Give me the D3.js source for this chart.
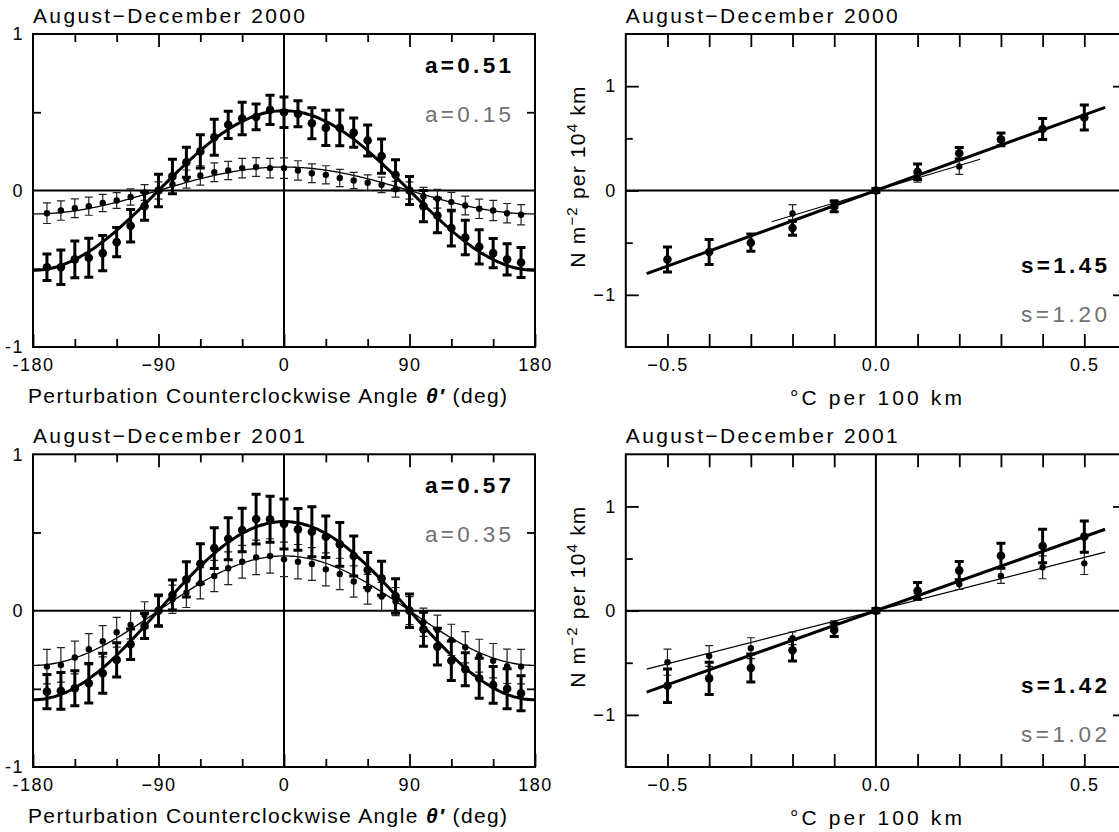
<!DOCTYPE html>
<html>
<head>
<meta charset="utf-8">
<script src="https://cdn.jsdelivr.net/npm/d3@7/dist/d3.min.js"></script>
<style>
  body { margin: 0; background: #fff; }
  svg { display: block; font-family: "Liberation Sans", Arial, sans-serif; }
</style>
</head>
<body>
<svg id="chart"></svg>
<script>
const width = 1119;
const height = 832;

// perturbation angle (deg) for the left panels
const angles = [-170, -160, -150, -140, -130, -120, -110, -100, -90, -80, -70, -60, -50, -40, -30, -20, -10,
  0, 10, 20, 30, 40, 50, 60, 70, 80, 90, 100, 110, 120, 130, 140, 150, 160, 170];

// 2000, strong series (a=0.51)
const ang2000Strong = [-0.49, -0.49, -0.44, -0.43, -0.40, -0.33, -0.225, -0.10, 0.00, 0.09, 0.18, 0.25, 0.34, 0.42, 0.46, 0.47, 0.515,
  0.50, 0.49, 0.43, 0.40, 0.40, 0.37, 0.32, 0.22, 0.10, 0.00, -0.10, -0.16, -0.24, -0.30, -0.36, -0.40, -0.44, -0.46];
const ang2000StrongErr = [0.085, 0.11, 0.117, 0.125, 0.113, 0.093, 0.104, 0.09, 0.104, 0.11, 0.096, 0.106, 0.115, 0.087, 0.104, 0.082, 0.093,
  0.098, 0.083, 0.099, 0.112, 0.114, 0.093, 0.099, 0.109, 0.096, 0.09, 0.10, 0.11, 0.114, 0.11, 0.11, 0.094, 0.10, 0.096];
// 2000, weak series (a=0.15)
const ang2000Weak = [-0.145, -0.128, -0.113, -0.10, -0.08, -0.064, -0.042, -0.013, 0.00, 0.04, 0.073, 0.096, 0.117, 0.128, 0.143, 0.15, 0.143,
  0.143, 0.128, 0.11, 0.10, 0.08, 0.064, 0.05, 0.036, 0.008, 0.00, -0.038, -0.053, -0.074, -0.096, -0.117, -0.128, -0.145, -0.155];
const ang2000WeakErr = [0.066, 0.062, 0.06, 0.058, 0.055, 0.05, 0.052, 0.05, 0.055, 0.06, 0.058, 0.062, 0.06, 0.058, 0.062, 0.06, 0.062,
  0.065, 0.062, 0.06, 0.058, 0.055, 0.052, 0.05, 0.05, 0.05, 0.055, 0.058, 0.06, 0.062, 0.06, 0.062, 0.065, 0.062, 0.065];

// 2001, strong series (a=0.57)
const ang2001Strong = [-0.518, -0.513, -0.496, -0.464, -0.40, -0.315, -0.215, -0.098, 0.00, 0.10, 0.20, 0.30, 0.40, 0.46, 0.516, 0.586, 0.584,
  0.554, 0.52, 0.505, 0.473, 0.424, 0.35, 0.26, 0.207, 0.094, 0.00, -0.119, -0.23, -0.32, -0.375, -0.432, -0.475, -0.50, -0.528];
const ang2001StrongErr = [0.109, 0.117, 0.112, 0.126, 0.128, 0.109, 0.098, 0.08, 0.10, 0.096, 0.112, 0.128, 0.13, 0.134, 0.139, 0.159, 0.147,
  0.16, 0.133, 0.16, 0.133, 0.14, 0.128, 0.112, 0.109, 0.11, 0.107, 0.109, 0.117, 0.126, 0.105, 0.128, 0.117, 0.128, 0.112];
// 2001, weak series (a=0.35)
const ang2001Weak = [-0.358, -0.347, -0.30, -0.247, -0.196, -0.138, -0.091, -0.028, 0.00, 0.073, 0.115, 0.175, 0.222, 0.271, 0.313, 0.341, 0.35,
  0.328, 0.313, 0.298, 0.264, 0.235, 0.186, 0.137, 0.09, 0.058, 0.00, -0.074, -0.123, -0.187, -0.234, -0.288, -0.32, -0.356, -0.358];
const ang2001WeakErr = [0.11, 0.11, 0.105, 0.10, 0.10, 0.095, 0.09, 0.085, 0.09, 0.09, 0.095, 0.10, 0.10, 0.105, 0.105, 0.11, 0.11,
  0.11, 0.11, 0.105, 0.105, 0.10, 0.10, 0.095, 0.09, 0.09, 0.09, 0.09, 0.095, 0.10, 0.10, 0.105, 0.11, 0.11, 0.11];

// temperature gradient (°C per 100 km) for the right panels
const gradients = [-0.5, -0.4, -0.3, -0.2, -0.1, 0.0, 0.1, 0.2, 0.3, 0.4, 0.5];
const gradientsShort = [-0.2, -0.1, 0.0, 0.1, 0.2];

const grad2000Strong = [-0.662, -0.59, -0.50, -0.36, -0.153, 0.0, 0.18, 0.357, 0.49, 0.59, 0.70];
const grad2000StrongErr = [0.12, 0.12, 0.083, 0.07, 0.05, 0.02, 0.075, 0.055, 0.06, 0.10, 0.12];
const grad2000Weak = [-0.22, -0.13, 0.0, 0.12, 0.23];
const grad2000WeakErr = [0.085, 0.04, 0.02, 0.04, 0.075];

const grad2001Strong = [-0.72, -0.65, -0.55, -0.38, -0.185, 0.0, 0.19, 0.384, 0.527, 0.62, 0.71];
const grad2001StrongErr = [0.16, 0.155, 0.135, 0.104, 0.064, 0.02, 0.08, 0.088, 0.12, 0.16, 0.15];
const grad2001Weak = [-0.495, -0.435, -0.36, -0.265, -0.128, 0.0, 0.134, 0.253, 0.333, 0.416, 0.454];
const grad2001WeakErr = [0.125, 0.10, 0.10, 0.06, 0.03, 0.02, 0.03, 0.05, 0.072, 0.11, 0.107];

// fitted parameters, as printed in the panels
const fitA = { 2000: [0.51, 0.15], 2001: [0.57, 0.35] };
const fitS = { 2000: [1.45, 1.20], 2001: [1.42, 1.02] };

const titles = ['August\u2212December 2000', 'August\u2212December 2001'];

const angleTicks = [-180, -90, 0, 90, 180];
const angleTickLabels = ['-180', '\u221290', '0', '90', '180'];
const gradTicks = [-0.5, 0.0, 0.5];
const gradTickLabels = ['\u22120.5', '0.0', '0.5'];

const svg = d3.select('#chart')
  .attr('width', width)
  .attr('height', height)
  .attr('viewBox', [0, 0, width, height]);

const boxes = {
  left: { x0: 33, x1: 535 },
  right: { x0: 625.8, x1: 1126 },
  rows: [{ y0: 34, y1: 347 }, { y0: 454.3, y1: 767 }]
};

// frame, zero lines and ticks shared by every panel
function drawFrame(g, x, y) {
  const [x0, x1] = x.range();
  const [y1, y0] = y.range();
  g.append('rect')
    .attr('x', x0).attr('y', y0)
    .attr('width', x1 - x0).attr('height', y1 - y0)
    .attr('fill', 'none').attr('stroke', '#000').attr('stroke-width', 2);
  g.append('line')
    .attr('x1', x0).attr('x2', x1).attr('y1', y(0)).attr('y2', y(0))
    .attr('stroke', '#000').attr('stroke-width', 2);
  g.append('line')
    .attr('x1', x(0)).attr('x2', x(0)).attr('y1', y0).attr('y2', y1)
    .attr('stroke', '#000').attr('stroke-width', 2);
}

function tickAxis(g, axis, translate) {
  const a = g.append('g').attr('transform', translate).call(axis);
  a.select('.domain').remove();
  a.selectAll('line').attr('stroke-width', 1.8);
  a.selectAll('text')
    .attr('font-family', '"Liberation Sans", Arial, sans-serif')
    .attr('font-size', 18)
    .attr('letter-spacing', 1.5)
    .attr('fill', '#000');
  return a;
}

function errorSeries(g, x, y, xs, vals, errs, strong) {
  const cap = strong ? 4.5 : 4;
  const sw = strong ? 3 : 1.2;
  const pts = xs.map((v, i) => ({ x: v, y: vals[i], e: errs[i] }));
  const grp = g.append('g');
  grp.selectAll('.bar').data(pts).enter().append('path')
    .attr('class', 'bar')
    .attr('d', d => {
      const xp = x(d.x), ya = y(d.y + d.e), yb = y(d.y - d.e);
      return `M${xp},${ya}L${xp},${yb}M${xp - cap},${ya}L${xp + cap},${ya}M${xp - cap},${yb}L${xp + cap},${yb}`;
    })
    .attr('stroke', strong ? '#000' : '#222')
    .attr('stroke-width', sw)
    .attr('fill', 'none');
  grp.selectAll('.dot').data(pts).enter().append('circle')
    .attr('class', 'dot')
    .attr('cx', d => x(d.x))
    .attr('cy', d => y(d.y))
    .attr('r', strong ? 4.3 : 3.2)
    .attr('fill', '#000');
}

function fitLabels(g, xRight, yStrong, strongText, weakText) {
  g.append('text')
    .attr('x', xRight - 86).attr('y', yStrong)
    .attr('font-size', 22.5).attr('font-weight', 'bold')
    .attr('textLength', 86).attr('lengthAdjust', 'spacing')
    .text(strongText);
  g.append('text')
    .attr('x', xRight - 86).attr('y', yStrong + 49)
    .attr('font-size', 22.5).attr('fill', '#707070')
    .attr('textLength', 86).attr('lengthAdjust', 'spacing')
    .text(weakText);
}

function anglePanel(row, year, strong, strongErr, weak, weakErr) {
  const box = boxes.rows[row];
  const g = svg.append('g');
  const x = d3.scaleLinear().domain([-180, 180]).range([boxes.left.x0, boxes.left.x1]);
  const y = d3.scaleLinear().domain([-1, 1]).range([box.y1, box.y0]);

  drawFrame(g, x, y);

  // minor/major angle ticks top and bottom
  const minor = [-150, -120, -60, -30, 30, 60, 120, 150];
  tickAxis(g, d3.axisBottom(x).tickValues(minor).tickSize(-8).tickFormat(''), `translate(0,${box.y1})`);
  tickAxis(g, d3.axisTop(x).tickValues(minor).tickSize(-8).tickFormat(''), `translate(0,${box.y0})`);
  tickAxis(g, d3.axisTop(x).tickValues([-90, 90]).tickSize(-13).tickFormat(''), `translate(0,${box.y0})`);
  tickAxis(g, d3.axisBottom(x).tickValues(angleTicks).tickSize(-13).tickPadding(11)
    .tickFormat((d, i) => angleTickLabels[i]), `translate(0,${box.y1})`);

  tickAxis(g, d3.axisLeft(y).tickValues([1, 0, -1]).tickSize(0).tickPadding(9)
    .tickFormat(d => d === -1 ? '-1' : String(d)), `translate(${boxes.left.x0},0)`);
  tickAxis(g, d3.axisLeft(y).tickValues([-0.5, 0.5]).tickSize(-8).tickFormat(''), `translate(${boxes.left.x0},0)`);
  tickAxis(g, d3.axisRight(y).tickValues([-0.5, 0.5]).tickSize(-8).tickFormat(''), `translate(${boxes.left.x1},0)`);

  // fitted a*cos(theta) curves
  const [aStrong, aWeak] = fitA[year];
  const theta = d3.range(-180, 181, 2);
  const line = d3.line().x(d => x(d[0])).y(d => y(d[1])).curve(d3.curveMonotoneX);
  g.append('path')
    .attr('d', line(theta.map(t => [t, aStrong * Math.cos(t * Math.PI / 180)])))
    .attr('fill', 'none').attr('stroke', '#000').attr('stroke-width', 3);
  g.append('path')
    .attr('d', line(theta.map(t => [t, aWeak * Math.cos(t * Math.PI / 180)])))
    .attr('fill', 'none').attr('stroke', '#000').attr('stroke-width', 1.3);

  errorSeries(g, x, y, angles, weak, weakErr, false);
  errorSeries(g, x, y, angles, strong, strongErr, true);

  fitLabels(g, 511, box.y0 + 38.5, `a=${aStrong.toFixed(2)}`, `a=${aWeak.toFixed(2)}`);

  g.append('text')
    .attr('x', boxes.left.x0).attr('y', box.y0 - 11)
    .attr('font-size', 21).attr('textLength', 272).attr('lengthAdjust', 'spacing')
    .text(titles[row]);

  const lbl = g.append('text')
    .attr('x', 28).attr('y', box.y1 + 56)
    .attr('font-size', 21).attr('textLength', 479).attr('lengthAdjust', 'spacing');
  lbl.append('tspan').text('Perturbation Counterclockwise Angle ');
  lbl.append('tspan').attr('font-weight', 'bold').attr('font-style', 'italic').text('\u03b8\u2032');
  lbl.append('tspan').text(' (deg)');
}

function gradientPanel(row, year, strong, strongErr, weakXs, weak, weakErr, weakSpan) {
  const box = boxes.rows[row];
  const g = svg.append('g');
  const x = d3.scaleLinear().domain([-0.6, 0.6]).range([boxes.right.x0, boxes.right.x1]);
  const y = d3.scaleLinear().domain([-1.5, 1.5]).range([box.y1, box.y0]);

  drawFrame(g, x, y);

  const xt = [-0.5, -0.4, -0.3, -0.2, -0.1, 0.1, 0.2, 0.3, 0.4, 0.5];
  tickAxis(g, d3.axisTop(x).tickValues(xt).tickSize(-13).tickFormat(''), `translate(0,${box.y0})`);
  tickAxis(g, d3.axisBottom(x).tickValues(xt).tickSize(-13).tickFormat(''), `translate(0,${box.y1})`);
  tickAxis(g, d3.axisBottom(x).tickValues(gradTicks).tickSize(0).tickPadding(11)
    .tickFormat((d, i) => gradTickLabels[i]), `translate(0,${box.y1})`);

  tickAxis(g, d3.axisLeft(y).tickValues([1, 0, -1]).tickSize(-13).tickPadding(9)
    .tickFormat(d => d === -1 ? '\u22121' : String(d)), `translate(${boxes.right.x0},0)`);
  tickAxis(g, d3.axisLeft(y).tickValues([-0.5, 0.5]).tickSize(-7).tickFormat(''), `translate(${boxes.right.x0},0)`);
  tickAxis(g, d3.axisRight(y).tickValues([-1, 1]).tickSize(-13).tickFormat(''), `translate(${boxes.right.x1},0)`);
  tickAxis(g, d3.axisRight(y).tickValues([-0.5, 0.5]).tickSize(-7).tickFormat(''), `translate(${boxes.right.x1},0)`);

  // fitted s*x lines, drawn a half step past the outermost points
  const [sStrong, sWeak] = fitS[year];
  const fit = d3.line().x(d => x(d[0])).y(d => y(d[1]));
  const strongSpan = [d3.min(gradients) - 0.05, d3.max(gradients) + 0.05];
  g.append('path')
    .attr('d', fit(strongSpan.map(v => [v, sStrong * v])))
    .attr('fill', 'none').attr('stroke', '#000').attr('stroke-width', 3);
  g.append('path')
    .attr('d', fit(weakSpan.map(v => [v, sWeak * v])))
    .attr('fill', 'none').attr('stroke', '#000').attr('stroke-width', 1.2);

  errorSeries(g, x, y, weakXs, weak, weakErr, false);
  errorSeries(g, x, y, gradients, strong, strongErr, true);

  fitLabels(g, 1107, box.y0 + 239, `s=${sStrong.toFixed(2)}`, `s=${sWeak.toFixed(2)}`);

  g.append('text')
    .attr('x', boxes.right.x0).attr('y', box.y0 - 11)
    .attr('font-size', 21).attr('textLength', 272).attr('lengthAdjust', 'spacing')
    .text(titles[row]);

  g.append('text')
    .attr('x', x(0) - 86).attr('y', box.y1 + 58)
    .attr('font-size', 21).attr('textLength', 172).attr('lengthAdjust', 'spacing')
    .text('\u00b0C per 100 km');

  const yl = g.append('text')
    .attr('transform', `translate(585,${(box.y0 + box.y1) / 2 - 14}) rotate(-90)`)
    .attr('text-anchor', 'middle')
    .attr('font-size', 21).attr('letter-spacing', 1.2);
  yl.append('tspan').text('N m');
  yl.append('tspan').attr('dy', -8).attr('font-size', 15).text('\u22122');
  yl.append('tspan').attr('dy', 8).text(' per 10');
  yl.append('tspan').attr('dy', -8).attr('font-size', 15).text('4');
  yl.append('tspan').attr('dy', 8).text(' km');
}

anglePanel(0, 2000, ang2000Strong, ang2000StrongErr, ang2000Weak, ang2000WeakErr);
anglePanel(1, 2001, ang2001Strong, ang2001StrongErr, ang2001Weak, ang2001WeakErr);
gradientPanel(0, 2000, grad2000Strong, grad2000StrongErr, gradientsShort, grad2000Weak, grad2000WeakErr, [-0.25, 0.25]);
gradientPanel(1, 2001, grad2001Strong, grad2001StrongErr, gradients, grad2001Weak, grad2001WeakErr, [-0.55, 0.55]);
</script>
</body>
</html>
